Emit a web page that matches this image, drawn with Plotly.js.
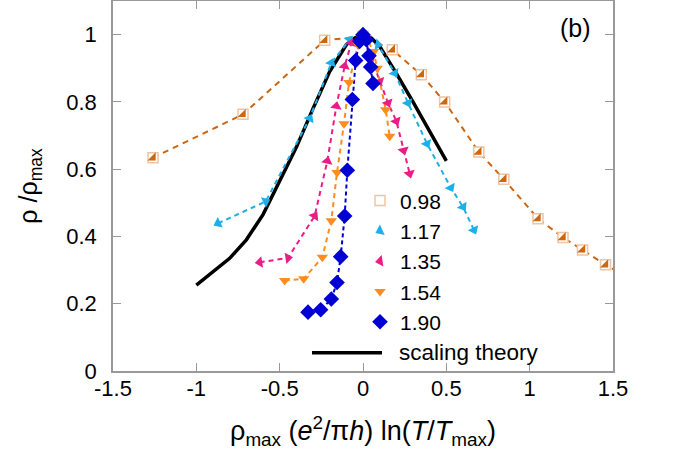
<!DOCTYPE html>
<html>
<head>
<meta charset="utf-8">
<script src="https://cdn.plot.ly/plotly-3.0.1.min.js"></script>
<style>
  body { margin: 0; background: #fff; }
  #myDiv { width: 677px; height: 462px; }
</style>
</head>
<body>
<div id="myDiv"></div>
<script>
// values
var xTickVals = [-1.5, -1, -0.5, 0, 0.5, 1, 1.5];
var xTickText = ['-1.5', '-1', '-0.5', '0', '0.5', '1', '1.5'];
var yTickVals = [0, 0.2, 0.4, 0.6, 0.8, 1];
var yTickText = ['0', '0.2', '0.4', '0.6', '0.8', '1'];

var x098 = [-1.26, -0.72, -0.23, 0.0, 0.176, 0.35, 0.49, 0.695, 0.845, 1.05, 1.20, 1.317, 1.455, 1.58];
var y098 = [0.634, 0.763, 0.983, 0.995, 0.955, 0.881, 0.80, 0.651, 0.570, 0.453, 0.397, 0.360, 0.316, 0.28];

var x117 = [-0.87, -0.584, -0.32, -0.19, -0.08, 0.09, 0.19, 0.27, 0.384, 0.527, 0.60, 0.666];
var y117 = [0.439, 0.504, 0.751, 0.916, 0.985, 0.97, 0.886, 0.797, 0.676, 0.545, 0.488, 0.419];

var x135 = [-0.62, -0.45, -0.29, -0.214, -0.16, -0.11, -0.07, 0.0, 0.05, 0.1, 0.15, 0.2, 0.244, 0.28];
var y135 = [0.323, 0.336, 0.461, 0.624, 0.787, 0.906, 0.975, 0.99, 0.93, 0.861, 0.797, 0.743, 0.656, 0.587];

var x154 = [-0.47, -0.356, -0.244, -0.19, -0.156, -0.114, -0.084, -0.03, 0.02, 0.064, 0.085, 0.136, 0.16];
var y154 = [0.269, 0.274, 0.338, 0.447, 0.59, 0.735, 0.858, 0.97, 0.99, 0.95, 0.90, 0.777, 0.698];

var x190 = [-0.33, -0.254, -0.19, -0.156, -0.134, -0.11, -0.094, -0.064, -0.044, -0.02, 0.0, 0.02, 0.036, 0.046, 0.06];
var y190 = [0.175, 0.182, 0.214, 0.263, 0.34, 0.461, 0.597, 0.807, 0.923, 0.98, 1.0, 0.985, 0.937, 0.904, 0.855];

var xTheory = [-1.0, -0.9, -0.8, -0.7, -0.6, -0.5, -0.4, -0.3, -0.2, -0.1, -0.05, 0.0, 0.05, 0.1, 0.2, 0.3, 0.4, 0.5];
var yTheory = [0.255, 0.295, 0.335, 0.39, 0.465, 0.565, 0.665, 0.78, 0.89, 0.97, 0.99, 1.0, 0.99, 0.965, 0.885, 0.80, 0.71, 0.625];

var brown = 'rgb(204,102,17)';
var brownLight = 'rgb(240,196,160)';
var cyan = 'rgb(28,176,232)';
var pink = 'rgb(236,28,134)';
var orange = 'rgb(255,140,30)';
var blue = 'rgb(0,0,210)';

// arrow-like markers: each triangle turned along its segment
// (the first one points back along the first segment)
function arrowAngles(xs, ys) {
  var sx = 166.6, sy = 337.5; // rough px per unit, only for the aspect
  return xs.map(function (x, i) {
    var a = i === 0 ? 1 : i - 1, b = i === 0 ? 0 : i;
    var dx = (xs[b] - xs[a]) * sx, dy = (ys[b] - ys[a]) * sy;
    return Math.atan2(dx, dy) * 180 / Math.PI;
  });
}

function dashLine(xs, ys, color, dash) {
  return {x: xs, y: ys, mode: 'lines', showlegend: false, hoverinfo: 'skip',
          line: {color: color, width: 2, dash: dash}};
}

var lines = [
  dashLine(x098, y098, brown, '6px,5px'),
  dashLine(x117, y117, cyan, '5px,4px'),
  dashLine(x135, y135, pink, '5px,4px'),
  dashLine(x154, y154, orange, '5px,4px'),
  dashLine(x190, y190, blue, '4px,3px')
];

var m098a = {
  x: x098, y: y098, mode: 'markers', name: '0.98', legendrank: 1,
  marker: {symbol: 'square', size: 10, color: 'white', line: {color: brownLight, width: 1.5}}
};
var m098b = {
  x: x098, y: y098, mode: 'markers', name: '0.98', showlegend: false,
  marker: {symbol: 'triangle-se', size: 9, color: brown, line: {width: 0}}
};
var m117 = {
  x: x117, y: y117, mode: 'markers', name: '1.17', legendrank: 2,
  marker: {symbol: 'triangle-up', size: 10, color: cyan, angle: arrowAngles(x117, y117)}
};
var m135 = {
  x: x135, y: y135, mode: 'markers', name: '1.35', legendrank: 3,
  marker: {symbol: 'triangle-up', size: 10, color: pink, angle: arrowAngles(x135, y135)}
};
var m154 = {
  x: x154, y: y154, mode: 'markers', name: '1.54', legendrank: 4,
  marker: {symbol: 'triangle-down', size: 10, color: orange}
};
var m190 = {
  x: x190, y: y190, mode: 'markers', name: '1.90', legendrank: 5,
  marker: {symbol: 'diamond', size: 12, color: blue}
};
var theory = {
  x: xTheory, y: yTheory, mode: 'lines', name: 'scaling theory', showlegend: false,
  line: {color: 'black', width: 3.5}
};

var data = [theory].concat(lines, [m098a, m098b, m117, m135, m154, m190]);

var fontFam = 'Liberation Sans, Arial, sans-serif';
var axisCommon = {
  showline: true, linecolor: '#999', linewidth: 1.5, mirror: 'ticks',
  ticks: 'inside', ticklen: 8, tickcolor: '#999', tickwidth: 1.2,
  showgrid: false, zeroline: false,
  tickfont: {family: fontFam, size: 22, color: 'black'}
};

var layout = {
  width: 677, height: 462,
  margin: {l: 113, r: 64, t: 1, b: 91},
  paper_bgcolor: 'white', plot_bgcolor: 'white',
  font: {family: fontFam, color: 'black'},
  xaxis: Object.assign({}, axisCommon, {
    range: [-1.5, 1.5], tickvals: xTickVals, ticktext: xTickText,
    ticklabelstandoff: -3,
    title: {text: 'ρ<sub>max</sub> (<i>e</i><sup>2</sup>/π<i>h</i>) ln(<i>T</i>/<i>T</i><sub>max</sub>)',
            font: {family: fontFam, size: 27, color: 'black'}, standoff: 21}
  }),
  yaxis: Object.assign({}, axisCommon, {
    range: [0, 1.1], tickvals: yTickVals, ticktext: yTickText,
    ticklabelstandoff: 10,
    title: {text: 'ρ /ρ<sub>max</sub>',
            font: {family: fontFam, size: 25, color: 'black'}, standoff: 22}
  }),
  legend: {
    x: 0.494, y: 0.515, xanchor: 'left', yanchor: 'top',
    bgcolor: 'rgba(0,0,0,0)', font: {family: fontFam, size: 21, color: 'black'},
    tracegroupgap: 0, traceorder: 'normal'
  },
  // the long key line for the theory curve sits under the legend
  shapes: [{
    type: 'line', xref: 'paper', yref: 'paper',
    x0: 0.398, x1: 0.538, y0: 0.049, y1: 0.049,
    line: {color: 'black', width: 3.5}
  }],
  annotations: [{
    text: '(b)', xref: 'paper', yref: 'paper', x: 0.924, y: 0.927,
    xanchor: 'center', yanchor: 'middle',
    showarrow: false, font: {family: fontFam, size: 25, color: 'black'}
  }, {
    text: 'scaling theory', xref: 'paper', yref: 'paper', x: 0.568, y: 0.049,
    xanchor: 'left', yanchor: 'middle',
    showarrow: false, font: {family: fontFam, size: 22.5, color: 'black'}
  }]
};

Plotly.newPlot('myDiv', data, layout, {displayModeBar: false});
</script>
</body>
</html>
